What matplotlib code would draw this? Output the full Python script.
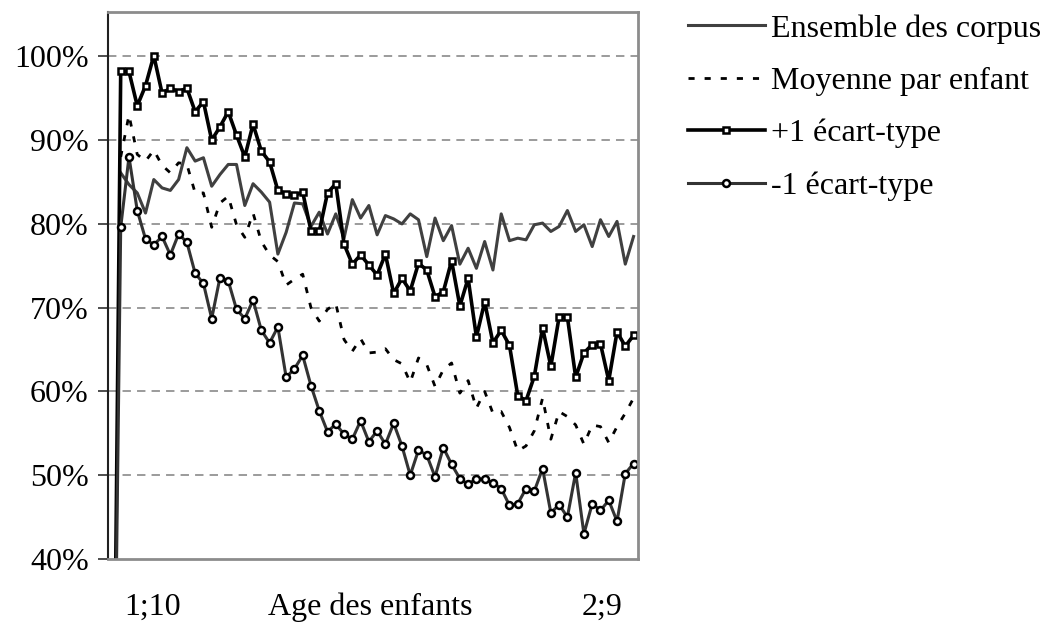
import numpy as np
import matplotlib.pyplot as plt
from matplotlib.ticker import FuncFormatter

plt.rcParams['font.family'] = ['Liberation Serif', 'DejaVu Serif']

# values in %, one point per age step (first step is empty / zero)
ensemble = [np.nan,
            86.1, 84.7, 83.7, 81.3, 85.3, 84.3, 84.0, 85.3, 89.1, 87.5, 87.9, 84.5, 85.9, 87.1, 87.1,
            82.2, 84.8, 83.8, 82.6, 76.4, 79.0, 82.5, 82.4, 79.7, 81.4, 78.8, 81.2, 78.3, 82.9, 80.7, 82.2,
            78.7, 81.0, 80.6, 80.0, 81.2, 80.5, 76.1, 80.7, 78.0, 79.8, 75.2, 77.1, 74.7, 77.9, 74.5, 81.2,
            78.0, 78.3, 78.1, 79.9, 80.1, 79.1, 79.7, 81.6, 79.1, 79.9, 77.3, 80.5, 78.5, 80.3, 75.2, 78.5]
moyenne = [np.nan,
           88.0, 93.0, 88.3, 87.5, 88.8, 87.0, 86.1, 87.3, 87.1, 83.7, 83.7, 79.6, 82.5, 83.3, 79.9,
           78.4, 81.3, 77.9, 76.3, 75.5, 72.7, 73.4, 74.0, 70.0, 68.4, 69.8, 70.5, 66.2, 64.8, 66.3, 64.6,
           64.7, 65.1, 63.8, 63.3, 61.1, 64.0, 63.2, 60.6, 62.6, 63.4, 59.8, 61.3, 58.0, 60.0, 57.4, 57.6,
           55.7, 52.9, 53.5, 55.3, 59.2, 54.3, 57.6, 57.0, 56.0, 53.7, 56.0, 55.8, 53.9, 55.8, 57.4, 59.2]
plus_sd = [0,
           98.2, 98.2, 94.1, 96.5, 100.1, 95.6, 96.2, 95.8, 96.2, 93.4, 94.6, 90.0, 91.6, 93.4, 90.6,
           88.0, 91.9, 88.7, 87.4, 84.0, 83.6, 83.4, 83.8, 79.2, 79.1, 83.7, 84.8, 77.6, 75.2, 76.3, 75.1,
           73.9, 76.4, 71.7, 73.5, 72.0, 75.3, 74.5, 71.3, 71.9, 75.6, 70.2, 73.5, 66.5, 70.7, 65.8, 67.3,
           65.5, 59.5, 58.9, 61.8, 67.6, 63.0, 68.9, 68.9, 61.7, 64.6, 65.6, 65.7, 61.3, 67.1, 65.4, 66.7]
minus_sd = [0,
            79.6, 88.0, 81.6, 78.2, 77.5, 78.5, 76.3, 78.8, 77.8, 74.1, 72.9, 68.7, 73.6, 73.2, 69.8,
            68.7, 70.9, 67.3, 65.8, 67.7, 61.7, 62.7, 64.3, 60.7, 57.7, 55.2, 56.1, 54.9, 54.3, 56.5, 54.0,
            55.3, 53.7, 56.2, 53.5, 50.0, 53.0, 52.4, 49.8, 53.3, 51.3, 49.6, 48.9, 49.6, 49.5, 49.1, 48.4,
            46.4, 46.6, 48.4, 48.1, 50.8, 45.5, 46.5, 45.0, 50.3, 43.0, 46.6, 45.8, 47.0, 44.5, 50.2, 51.4]
labels = ['Ensemble des corpus', 'Moyenne par enfant', '+1 écart-type', '-1 écart-type']
yticks = [40, 50, 60, 70, 80, 90, 100]

x = np.arange(len(ensemble))
fs = 23

fig = plt.figure(figsize=(10.5, 6.35), dpi=100)
ax = fig.add_axes([108.3 / 1050, 1 - 559 / 635, (637.7 - 108.3) / 1050, (559 - 12) / 635])

for yv in yticks[1:]:
    ax.axhline(yv, color='#808080', lw=1.1, ls=(0, (5.5, 4)), zorder=0)

ax.plot(x, ensemble, color='#404040', lw=2.2, label=labels[0])
ax.plot(x, moyenne, color='black', lw=2.0, ls=(0, (2.2, 3.6)), label=labels[1])
ax.plot(x, plus_sd, color='black', lw=2.6, marker='s', ms=5, mfc='white', mec='black', mew=1.8,
        label=labels[2])
ax.plot(x, minus_sd, color='#333333', lw=2.2, marker='o', ms=5, mfc='white', mec='black', mew=1.8,
        label=labels[3])

ax.set_xlim(-0.5, len(x) - 0.5)
ax.set_ylim(40, 105.3)
ax.set_yticks(yticks)
ax.yaxis.set_major_formatter(FuncFormatter(lambda v, p: '%d%%' % v))
ax.set_xticks([])
ax.tick_params(axis='y', length=7, width=1.3, pad=7, labelsize=fs, color='#404040')

for side in ['top', 'right', 'bottom']:
    ax.spines[side].set_color('#8c8c8c')
    ax.spines[side].set_linewidth(2)
ax.spines['left'].set_color('#202020')
ax.spines['left'].set_linewidth(1.5)

fig.text(153 / 1050, 1 - 607 / 635, '1;10', ha='center', va='center', fontsize=fs)
fig.text(370 / 1050, 1 - 607 / 635, 'Age des enfants', ha='center', va='center', fontsize=fs)
fig.text(602 / 1050, 1 - 607 / 635, '2;9', ha='center', va='center', fontsize=fs)

leg = ax.legend(loc='upper left', bbox_to_anchor=(688 / 1050, 1 - 14 / 635), bbox_transform=fig.transFigure,
                frameon=False, fontsize=fs, handlelength=2.4, handletextpad=0.2, labelspacing=0.72,
                numpoints=1, borderpad=0, borderaxespad=0)

fig.savefig('out.png', dpi=100)
